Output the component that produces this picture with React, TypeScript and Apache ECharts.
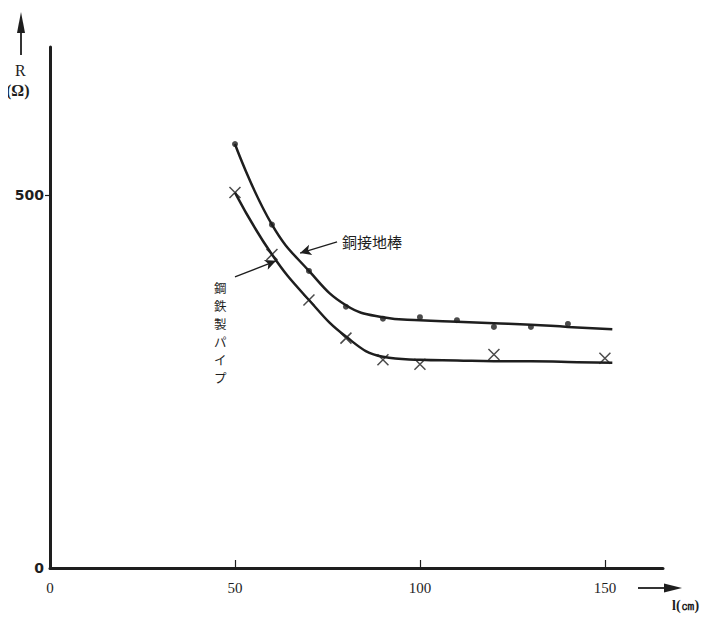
import React, { useEffect, useRef } from "react";
import * as echarts from "echarts";

// x: distance l (cm), y: resistance R (Ω)
const X_TICKS = [50, 100, 150];
const X_LABELS = [0, 50, 100, 150];
const Y_TICKS = [500];
const Y_LABELS = [0, 500];

// 銅接地棒 (copper ground rod)
const curveX = [50, 60, 70, 80, 90, 100, 110, 120, 130, 140, 152];
const copperRodCurve = [568, 460, 398, 352, 336, 332, 330, 328, 326, 323, 320];
const copperRodX = [50, 60, 70, 80, 90, 100, 110, 120, 130, 140];
const copperRodPoints = [568, 460, 398, 350, 334, 336, 332, 323, 323, 327];

// 鋼鉄製パイプ (steel pipe)
const steelPipeCurve = [503, 420, 359, 310, 283, 279, 278, 277, 277, 276, 275];
const steelPipeX = [50, 60, 70, 80, 90, 100, 120, 150];
const steelPipePoints = [503, 420, 359, 308, 279, 273, 286, 281];

// annotation arrows (data coordinates: tail -> tip)
const copperArrow = [[77.6, 437], [67.6, 422]];
const steelArrow = [[50, 390], [61.1, 411.5]];

const copperLabel = "銅接地棒";
const steelLabel = ["鋼", "鉄", "製", "パ", "イ", "プ"];

const INK = "#1e1e1e";
const SERIF = "'Liberation Serif', 'DejaVu Serif', serif";
const CJK = "'Noto Sans CJK JP', 'Noto Sans', sans-serif";

export default function App() {
  const ref = useRef<HTMLDivElement>(null);
  useEffect(() => {
    if (!ref.current) return;
    const chart = echarts.init(ref.current, null, { renderer: "svg" });
    const pair = (xs: number[], ys: number[]) => xs.map((x, i) => [x, ys[i]]);
    chart.setOption({
      animation: false,
      backgroundColor: "#ffffff",
      grid: { left: 50, right: 55, top: 47, bottom: 54, containLabel: false },
      xAxis: {
        type: "value",
        min: 0,
        max: 165.7,
        interval: 50,
        splitLine: { show: false },
        axisLine: { show: true, lineStyle: { color: INK, width: 3 } },
        axisTick: {
          show: true,
          inside: true,
          length: 8,
          customValues: X_TICKS,
          lineStyle: { color: INK, width: 1.2 },
        },
        axisLabel: {
          customValues: X_LABELS,
          color: INK,
          fontFamily: SERIF,
          fontSize: 15,
          margin: 12,
        },
      },
      yAxis: {
        type: "value",
        min: 0,
        max: 698,
        interval: 500,
        splitLine: { show: false },
        axisLine: { show: true, lineStyle: { color: INK, width: 3 } },
        axisTick: {
          show: true,
          length: 5,
          customValues: Y_TICKS,
          lineStyle: { color: INK, width: 1.2 },
        },
        axisLabel: {
          customValues: Y_LABELS,
          color: INK,
          fontFamily: "'DejaVu Sans', sans-serif",
          fontWeight: "bold",
          fontSize: 14,
          margin: 6,
        },
      },
      series: [
        {
          name: "銅接地棒",
          type: "line",
          data: pair(curveX, copperRodCurve),
          smooth: 0.45,
          showSymbol: false,
          lineStyle: { color: INK, width: 2.5 },
          silent: true,
          markLine: {
            silent: true,
            symbol: ["none", "arrow"],
            symbolSize: [8, 11],
            label: { show: false },
            lineStyle: { color: INK, width: 1.3, type: "solid" },
            data: [
              [{ coord: copperArrow[0] }, { coord: copperArrow[1] }],
              [{ coord: steelArrow[0] }, { coord: steelArrow[1] }],
            ],
          },
        },
        {
          name: "鋼鉄製パイプ",
          type: "line",
          data: pair(curveX, steelPipeCurve),
          smooth: 0.45,
          showSymbol: false,
          lineStyle: { color: INK, width: 2.5 },
          silent: true,
        },
        {
          type: "scatter",
          data: pair(copperRodX, copperRodPoints),
          symbol: "circle",
          symbolSize: 6,
          itemStyle: { color: INK },
          silent: true,
        },
        {
          type: "scatter",
          data: pair(steelPipeX, steelPipePoints),
          symbol: "path://M0,0L10,10M10,0L0,10",
          symbolSize: 11,
          itemStyle: { color: "transparent", borderColor: INK, borderWidth: 1.5 },
          silent: true,
        },
      ],
      graphic: [
        // y-axis arrow and title
        { type: "line", shape: { x1: 21, y1: 30, x2: 21, y2: 55 }, style: { stroke: INK, lineWidth: 1.8 } },
        { type: "polygon", shape: { points: [[21, 12], [17, 33], [25, 33]] }, style: { fill: INK } },
        {
          type: "text",
          left: 15,
          top: 62,
          style: { text: "R", fontFamily: SERIF, fontSize: 16, fill: INK },
        },
        {
          type: "text",
          left: 6,
          top: 82,
          style: { text: "(Ω)", fontFamily: SERIF, fontSize: 16, fontWeight: "bold", fill: INK },
        },
        // x-axis arrow and title
        { type: "line", shape: { x1: 638, y1: 588, x2: 668, y2: 588 }, style: { stroke: INK, lineWidth: 1.8 } },
        { type: "polygon", shape: { points: [[682, 588], [664, 583.5], [664, 592.5]] }, style: { fill: INK } },
        {
          type: "text",
          left: 672,
          top: 598,
          style: { text: "l(㎝)", fontFamily: SERIF, fontSize: 14, fontWeight: "bold", fill: INK },
        },
        // annotations
        {
          type: "text",
          left: 342,
          top: 234,
          style: { text: copperLabel, fontFamily: CJK, fontSize: 15, fill: INK },
        },
        ...steelLabel.map((ch, i) => ({
          type: "text",
          left: 214,
          top: 281 + i * 18,
          style: { text: ch, fontFamily: CJK, fontSize: 12.5, lineHeight: 13, fill: INK },
        })),
      ],
    });
    return () => chart.dispose();
  }, []);
  return <div ref={ref} style={{ width: 718, height: 622, margin: -8 }} />;
}
